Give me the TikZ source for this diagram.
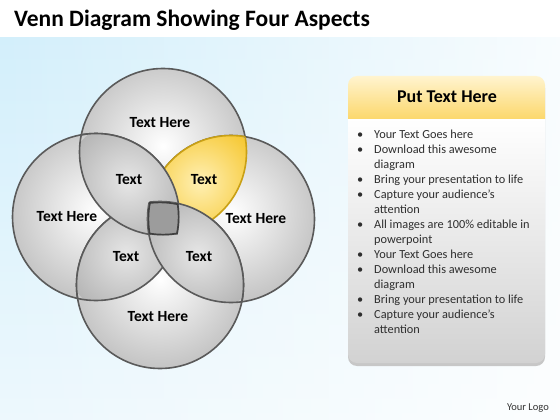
\documentclass[tikz,border=0pt]{standalone}
\usepackage{fontspec}
\setmainfont{Carlito}
\usetikzlibrary{fadings,calc}
\definecolor{bgblue}{HTML}{D3EFFB}
\definecolor{bgblue2}{HTML}{EDF8FD}
\definecolor{circedge}{HTML}{C2C2C2}
\definecolor{circline}{HTML}{5A5A5A}
\definecolor{lensin}{HTML}{E6E6E6}
\definecolor{lensout}{HTML}{B6B6B6}
\definecolor{yelin}{HTML}{FFF0B4}
\definecolor{yelout}{HTML}{F6C833}
\definecolor{yelline}{HTML}{C9A015}
\definecolor{sqfill}{HTML}{9C9C9C}
\definecolor{hdrtop}{HTML}{FFF4CF}
\definecolor{hdrbot}{HTML}{FCD86E}
\definecolor{bodybot}{HTML}{D2D2D2}
\newcommand\rr{83.5pt}
\tikzset{
  circline/.style={draw=circline, line width=1.6pt},
  yline/.style={draw=yelline, line width=1.6pt},
  lbl/.style={font=\fontsize{15.5}{17}\selectfont\bfseries, inner sep=0pt},
  slbl/.style={font=\fontsize{15.5}{17}\selectfont\bfseries, inner sep=0pt},
}
% lens: #1,#2 circles, #3 centre of shading, #4 inner, #5 outer, #6 line style
\newcommand\vlens[6]{%
  \begin{scope}\clip (#1) circle[radius=\rr]; \clip (#2) circle[radius=\rr];
    \shade[inner color=#4, outer color=#5] (#3) circle[radius=62pt];
  \end{scope}
  \begin{scope}\clip (#1) circle[radius=\rr]; \draw[#6] (#2) circle[radius=\rr]; \end{scope}
  \begin{scope}\clip (#2) circle[radius=\rr]; \draw[#6] (#1) circle[radius=\rr]; \end{scope}}
\begin{document}
\begin{tikzpicture}[x=1pt,y=-1pt]
\useasboundingbox (0,0) rectangle (560,420);
% background
\shade[top color=bgblue, bottom color=bgblue2] (0,37) rectangle (560,420);
\fill[white, path fading=west, fill opacity=0.85] (0,37) rectangle (560,420);
\fill[white] (0,0) rectangle (560,37);
\node[anchor=base west, inner sep=0pt, font=\fontsize{23.5}{27}\selectfont\bfseries] (titl) at (14,27) {Venn Diagram Showing Four Aspects};

% circles
\coordinate (cT) at (163,152);
\coordinate (cL) at (96,217);
\coordinate (cR) at (231,219);
\coordinate (cB) at (160,285);
\foreach \c in {cT,cL,cR,cB}{
  \begin{scope}
    \clip (\c) circle[radius=\rr];
    \shade[inner color=white, outer color=circedge] ($(\c)+(0,-6)$) circle[radius=92pt];
  \end{scope}
  \draw[circline] (\c) circle[radius=\rr];
}
% lenses
\vlens{cT}{cR}{200,182}{yelin}{yelout}{yline}
\vlens{cL}{cB}{126,254}{lensin}{lensout}{circline}
\vlens{cT}{cL}{128,182}{lensin}{lensout}{circline}
\vlens{cB}{cR}{198,254}{lensin}{lensout}{circline}
% central region
\begin{scope}
  \clip (cT) circle[radius=\rr]; \clip (cB) circle[radius=\rr]; \clip (cL) circle[radius=\rr];
  \fill[sqfill] (cR) circle[radius=\rr];
\end{scope}
\begin{scope}
  \clip (cT) circle[radius=\rr]; \clip (cB) circle[radius=\rr]; \clip (cL) circle[radius=\rr]; \clip (cR) circle[radius=\rr];
  \draw[draw=black!75, line width=3.4pt] (cT) circle[radius=\rr];
  \draw[draw=black!75, line width=3.4pt] (cB) circle[radius=\rr];
  \draw[draw=black!75, line width=3.4pt] (cL) circle[radius=\rr];
  \draw[draw=black!75, line width=3.4pt] (cR) circle[radius=\rr];
\end{scope}

% labels
\node[lbl] (tT) at (160,123) {Text Here};
\node[lbl] (tL) at (67,217) {Text Here};
\node[lbl] (tR) at (256,219) {Text Here};
\node[lbl] (tB) at (158,317) {Text Here};
\node[slbl] (tTL) at (129,180) {Text};
\node[slbl] (tTR) at (204,180) {Text};
\node[slbl] (tLB) at (126,257) {Text};
\node[slbl] (tBR) at (199,257) {Text};

% panel
\fill[black!22, rounded corners=9pt] (348,79) rectangle (545,366);
\begin{scope}
  \clip[rounded corners=9pt] (348,76) rectangle (545,363);
  \shade[top color=white, bottom color=bodybot] (348,118) rectangle (545,363);
  \shade[top color=hdrtop, bottom color=hdrbot] (348,76) rectangle (545,118);
\end{scope}
\node[inner sep=0pt, font=\fontsize{18}{20}\selectfont\bfseries] (hdr) at (447,97) {Put Text Here};
\node[anchor=north west, inner sep=0pt, font=\fontsize{12.3}{15}\selectfont, text=black!82] (blist) at (357,128) {%
\begin{tabular}{@{}p{17pt}@{}l@{}}
\textbullet & Your Text Goes here\\
\textbullet & Download this awesome\\
 & diagram\\
\textbullet & Bring your presentation to life\\
\textbullet & Capture your audience’s\\
 & attention\\
\textbullet & All images are 100\% editable in\\
 & powerpoint\\
\textbullet & Your Text Goes here\\
\textbullet & Download this awesome\\
 & diagram\\
\textbullet & Bring your presentation to life\\
\textbullet & Capture your audience’s\\
 & attention
\end{tabular}};
\node[anchor=base east, inner sep=0pt, font=\fontsize{10.5}{12}\selectfont, text=black!80] (logo) at (549,410) {Your Logo};
\end{tikzpicture}
\end{document}
